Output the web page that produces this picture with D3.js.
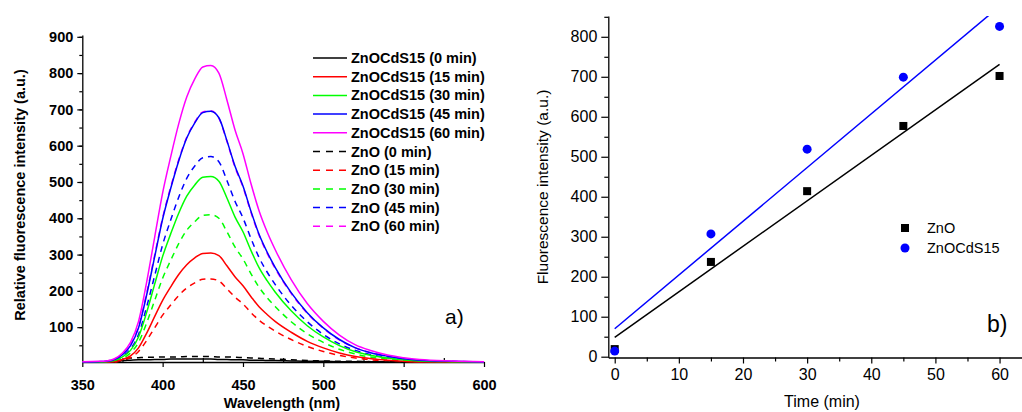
<!DOCTYPE html>
<html>
<head>
<meta charset="utf-8">
<script src="https://cdn.jsdelivr.net/npm/d3@7"></script>
<style>
  body { margin: 0; background: white; }
  svg text { font-family: "Liberation Sans", Arial, sans-serif; }
</style>
</head>
<body>
<div id="container"></div>
<script>
/* CONSTANTS AND GLOBALS */
const width = 1022;
const height = 412;

/* DATA - panel a) spectra */
const wavelength = [350, 360, 365, 370, 375, 380, 385, 390, 395, 400, 405, 410, 415, 420, 425, 430, 435, 440, 445, 450,
  455, 460, 465, 470, 480, 490, 500, 510, 520, 530, 540, 550, 560, 580, 600];

const cds0  = [4, 4, 5, 6, 8, 9, 10, 10, 11, 11, 12, 12, 12, 12, 12, 12, 11, 11, 10, 10, 9, 9, 8, 8, 7, 6, 6, 5, 5, 5, 4, 4, 4, 4, 4];
const cds15 = [4, 4, 4, 5, 11, 21, 43, 83, 129, 174, 211, 245, 272, 291, 303, 304, 297, 269, 239, 214, 184, 156, 135, 116, 86, 61, 43, 29, 19, 13, 9, 6, 4, 4, 4];
const cds30 = [4, 4, 5, 8, 18, 36, 73, 140, 218, 295, 357, 414, 461, 492, 513, 515, 502, 456, 404, 363, 311, 264, 228, 197, 145, 104, 73, 49, 32, 22, 15, 10, 7, 5, 4];
const cds45 = [4, 5, 6, 11, 24, 49, 98, 188, 293, 398, 482, 558, 621, 663, 691, 695, 677, 614, 544, 489, 419, 356, 307, 265, 195, 140, 98, 66, 43, 29, 20, 13, 9, 6, 4];
const cds60 = [5, 6, 7, 13, 29, 58, 116, 223, 347, 470, 569, 660, 734, 784, 817, 821, 800, 726, 644, 578, 495, 421, 363, 314, 231, 165, 116, 78, 51, 35, 23, 16, 11, 7, 5];

const zno0  = [4, 4, 5, 7, 12, 15, 16, 17, 17, 18, 18, 18, 19, 19, 19, 19, 18, 18, 17, 16, 15, 14, 13, 12, 10, 8, 7, 6, 6, 5, 5, 5, 4, 4, 4];
const zno15 = [4, 4, 4, 4, 8, 16, 33, 63, 98, 133, 161, 187, 208, 222, 232, 233, 227, 206, 183, 164, 140, 119, 103, 89, 66, 47, 33, 22, 15, 10, 7, 4, 4, 4, 4];
const zno30 = [4, 4, 4, 7, 14, 29, 58, 111, 173, 235, 284, 330, 367, 391, 408, 410, 400, 363, 321, 288, 247, 210, 181, 157, 115, 82, 58, 39, 26, 17, 12, 8, 5, 4, 4];
const zno45 = [4, 4, 5, 9, 20, 40, 80, 155, 241, 327, 395, 458, 510, 544, 567, 570, 556, 504, 447, 401, 344, 292, 252, 218, 160, 115, 80, 54, 36, 24, 16, 11, 7, 5, 4];
const zno60 = [4, 5, 7, 12, 26, 52, 102, 193, 298, 402, 486, 561, 623, 665, 693, 696, 676, 612, 541, 486, 416, 353, 304, 262, 193, 138, 97, 65, 43, 29, 20, 13, 9, 6, 4];

const spectraNames = ["ZnOCdS15 (0 min)", "ZnOCdS15 (15 min)", "ZnOCdS15 (30 min)", "ZnOCdS15 (45 min)", "ZnOCdS15 (60 min)",
  "ZnO (0 min)", "ZnO (15 min)", "ZnO (30 min)", "ZnO (45 min)", "ZnO (60 min)"];
const spectraValues = [cds0, cds15, cds30, cds45, cds60, zno0, zno15, zno30, zno45, zno60];
const spectraColors = ["#000000", "#ff0000", "#00ff00", "#0000ff", "#ff00ff",
  "#000000", "#ff0000", "#00ff00", "#0000ff", "#ff00ff"];

/* DATA - panel b) intensity vs time */
const time = [0, 15, 30, 45, 60];
const znoIntensity = [19, 237, 414, 577, 702];
const cdsIntensity = [14, 307, 519, 699, 826];

const svg = d3.select("#container")
  .append("svg")
  .attr("width", width)
  .attr("height", height)
  .style("background-color", "white");

/* ---------- PANEL A ---------- */
const xA = d3.scaleLinear().domain([350, 600]).range([82.3, 484]);
const yA = d3.scaleLinear().domain([4, 905]).range([362, 35]);
const fsA = 14.5;

const gA = svg.append("g");

// y axis: major + minor
gA.append("g")
  .attr("transform", `translate(${xA.range()[0]},0)`)
  .call(d3.axisLeft(yA).tickValues(d3.range(50, 901, 50)).tickSize(3).tickFormat(""))
  .call(g => g.select(".domain").remove())
  .selectAll("line").attr("stroke-width", 1.2);

gA.append("g")
  .attr("transform", `translate(${xA.range()[0]},0)`)
  .call(d3.axisLeft(yA).tickValues(d3.range(100, 901, 100)).tickSize(5).tickSizeOuter(0).tickPadding(4))
  .call(g => g.select(".domain").attr("stroke-width", 1.3))
  .call(g => g.selectAll("line").attr("stroke-width", 1.2))
  .call(g => g.selectAll("text").attr("font-size", fsA).attr("font-weight", "bold").attr("fill", "#000"));

// x axis: minor ticks inward, major outward
gA.append("g")
  .attr("transform", `translate(0,${yA.range()[0]})`)
  .call(d3.axisTop(xA).tickValues([375, 425, 475, 525, 575]).tickSize(4).tickFormat(""))
  .call(g => g.select(".domain").remove())
  .selectAll("line").attr("stroke-width", 1.2);

gA.append("g")
  .attr("transform", `translate(0,${yA.range()[0]})`)
  .call(d3.axisBottom(xA).tickValues(d3.range(350, 601, 50)).tickSize(5).tickSizeOuter(0).tickPadding(13))
  .call(g => g.select(".domain").attr("stroke-width", 1.3))
  .call(g => g.selectAll("line").attr("stroke-width", 1.2))
  .call(g => g.selectAll("text").attr("font-size", fsA).attr("font-weight", "bold").attr("fill", "#000"));

const lineA = d3.line()
  .x((d, i) => xA(wavelength[i]))
  .y(d => yA(d))
  .curve(d3.curveMonotoneX);

// dashed first, then solid on top
const order = [5, 6, 7, 8, 9, 0, 1, 2, 3, 4];
gA.selectAll(".spec")
  .data(order)
  .join("path")
  .attr("class", "spec")
  .attr("d", k => lineA(spectraValues[k]))
  .attr("fill", "none")
  .attr("stroke", k => spectraColors[k])
  .attr("stroke-width", 1.5)
  .attr("stroke-dasharray", k => k >= 5 ? "6,5" : null);

// legend
const legA = gA.append("g").attr("transform", "translate(313,58)");
const legRow = legA.selectAll("g")
  .data(spectraNames)
  .join("g")
  .attr("transform", (d, i) => `translate(0,${i * 18.7})`);
legRow.append("line")
  .attr("x1", 0).attr("x2", 34)
  .attr("stroke", (d, i) => spectraColors[i])
  .attr("stroke-width", 1.5)
  .attr("stroke-dasharray", (d, i) => i >= 5 ? "7,6" : null);
legRow.append("text")
  .attr("x", 38).attr("dy", "0.35em")
  .attr("font-size", fsA).attr("font-weight", "bold")
  .text(d => d);

gA.append("text")
  .attr("x", 282).attr("y", 408)
  .attr("text-anchor", "middle")
  .attr("font-size", fsA).attr("font-weight", "bold")
  .text("Wavelength (nm)");

gA.append("text")
  .attr("transform", "translate(25,195) rotate(-90)")
  .attr("text-anchor", "middle")
  .attr("font-size", fsA).attr("font-weight", "bold")
  .text("Relative fluorescence intensity (a.u.)");

gA.append("text")
  .attr("x", 445).attr("y", 324)
  .attr("font-size", 21)
  .text("a)");

/* ---------- PANEL B ---------- */
const xB = d3.scaleLinear().domain([-1, 63.5]).range([608.3, 1022]);
const yB = d3.scaleLinear().domain([-2, 852]).range([357.5, 16]);

const gB = svg.append("g");

gB.append("g")
  .attr("transform", `translate(${xB.range()[0]},0)`)
  .call(d3.axisLeft(yB).tickValues(d3.range(50, 851, 100)).tickSize(4).tickFormat(""))
  .call(g => g.select(".domain").remove())
  .selectAll("line").attr("stroke-width", 1.2);

gB.append("g")
  .attr("transform", `translate(${xB.range()[0]},0)`)
  .call(d3.axisLeft(yB).tickValues(d3.range(0, 801, 100)).tickSize(7).tickSizeOuter(0).tickPadding(4))
  .call(g => g.select(".domain").attr("stroke-width", 1.3))
  .call(g => g.selectAll("line").attr("stroke-width", 1.2))
  .call(g => g.selectAll("text").attr("font-size", 16).attr("fill", "#000"));

gB.append("g")
  .attr("transform", `translate(0,${yB.range()[0]})`)
  .call(d3.axisBottom(xB).tickValues(d3.range(5, 61, 10)).tickSize(4).tickFormat(""))
  .call(g => g.select(".domain").remove())
  .selectAll("line").attr("stroke-width", 1.2);

gB.append("g")
  .attr("transform", `translate(0,${yB.range()[0]})`)
  .call(d3.axisBottom(xB).tickValues(d3.range(0, 61, 10)).tickSize(6).tickSizeOuter(0).tickPadding(5))
  .call(g => g.select(".domain").attr("stroke-width", 1.3))
  .call(g => g.selectAll("line").attr("stroke-width", 1.2))
  .call(g => g.selectAll("text").attr("font-size", 16).attr("fill", "#000"));

// linear fits clipped to plot area
svg.append("clipPath").attr("id", "clipB")
  .append("rect")
  .attr("x", xB.range()[0]).attr("y", yB.range()[1])
  .attr("width", xB.range()[1] - xB.range()[0])
  .attr("height", yB.range()[0] - yB.range()[1]);

function fit(xs, ys) {
  const mx = d3.mean(xs), my = d3.mean(ys);
  const sxy = d3.sum(xs, (x, i) => (x - mx) * (ys[i] - my));
  const sxx = d3.sum(xs, x => (x - mx) * (x - mx));
  const b = sxy / sxx;
  return { a: my - b * mx, b: b };
}

const fits = [
  { f: fit(time, znoIntensity), color: "#000000" },
  { f: fit(time, cdsIntensity), color: "#0000ff" }
];

gB.append("g").attr("clip-path", "url(#clipB)")
  .selectAll("line")
  .data(fits)
  .join("line")
  .attr("x1", xB(0)).attr("x2", xB(60))
  .attr("y1", d => yB(d.f.a))
  .attr("y2", d => yB(d.f.a + d.f.b * 60))
  .attr("stroke", d => d.color)
  .attr("stroke-width", 1.5);

gB.selectAll(".sq")
  .data(znoIntensity)
  .join("rect")
  .attr("class", "sq")
  .attr("x", (d, i) => xB(time[i]) - 4)
  .attr("y", d => yB(d) - 4)
  .attr("width", 8).attr("height", 8)
  .attr("fill", "#000");

gB.selectAll(".dot")
  .data(cdsIntensity)
  .join("circle")
  .attr("class", "dot")
  .attr("cx", (d, i) => xB(time[i]))
  .attr("cy", d => yB(d))
  .attr("r", 4.5)
  .attr("fill", "#0000ff");

// legend b
const legB = gB.append("g").attr("transform", "translate(905,228)");
legB.append("rect").attr("x", -4).attr("y", -4).attr("width", 8).attr("height", 8).attr("fill", "#000");
legB.append("text").attr("x", 22).attr("dy", "0.35em").attr("font-size", 14.5).text("ZnO");
legB.append("circle").attr("cy", 20).attr("r", 4.5).attr("fill", "#0000ff");
legB.append("text").attr("x", 22).attr("y", 20).attr("dy", "0.35em").attr("font-size", 14.5).text("ZnOCdS15");

gB.append("text")
  .attr("x", 822).attr("y", 407)
  .attr("text-anchor", "middle")
  .attr("font-size", 16)
  .text("Time (min)");

gB.append("text")
  .attr("transform", "translate(548,187) rotate(-90)")
  .attr("text-anchor", "middle")
  .attr("font-size", 15.5)
  .text("Fluorescence intensity (a.u.)");

gB.append("text")
  .attr("x", 987).attr("y", 332)
  .attr("font-size", 23)
  .text("b)");
</script>
</body>
</html>
